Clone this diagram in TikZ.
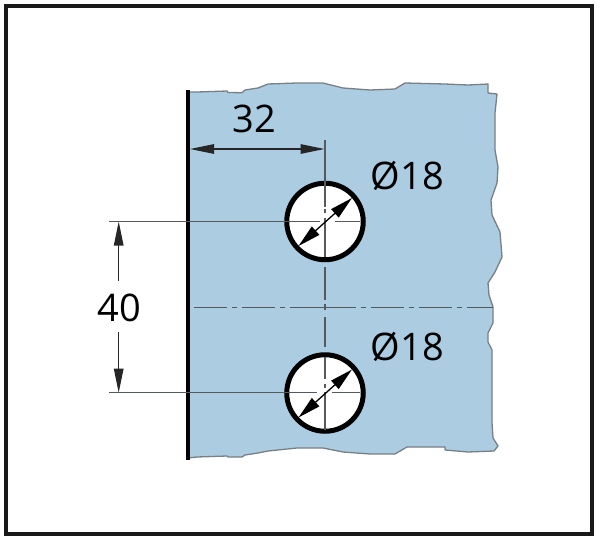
\documentclass[tikz,border=0pt]{standalone}
\usepackage{fontspec}
\setmainfont{Open Sans}
\usetikzlibrary{arrows.meta}
\definecolor{plate}{RGB}{171,204,225}
\definecolor{plateedge}{RGB}{120,128,134}
\definecolor{dimline}{RGB}{85,90,95}
\tikzset{
  frameline/.style={draw=black!90,line width=3.2pt},
  plateshape/.style={fill=plate,draw=plateedge,line width=1.3pt,line join=round},
  edgebar/.style={draw=black,line width=4pt},
  holering/.style={circle,draw=black,line width=5pt,fill=white,minimum size=76.5pt,inner sep=0pt,outer sep=0pt},
  dimarrow/.style={draw=black,line width=1.3pt,{Triangle[length=23pt,width=11pt]}-{Triangle[length=23pt,width=11pt]}},
  hdim/.style={draw=black!85,line width=1.2pt,-{Triangle[length=24pt,width=9.5pt]}},
  thinline/.style={draw=dimline,line width=1.3pt},
  axisline/.style={draw=dimline,line width=1pt,dash pattern=on 33pt off 5pt on 5pt off 5pt},
  label/.style={font=\fontsize{38}{40}\selectfont,text=black,inner sep=0pt}
}
\begin{document}
\begin{tikzpicture}[x=1pt,y=-1pt]
\useasboundingbox (0,0) rectangle (600,544);
\fill[white] (0,0) rectangle (600,544);
\draw[frameline] (6,6) rectangle (592,534);
\draw[plateshape] (188,92) -- (197,92) -- (227,91) -- (228,92.5) -- (242,92.7) -- (245,90) -- (258,88) -- (268,84) -- (297,83) -- (323,83) -- (343,88) -- (370,90) -- (395,89) -- (405,83) -- (445,84) -- (468,85) -- (488,84) -- (488,93) -- (497,94) -- (495,113) -- (495,150) -- (498,167) -- (497,183) -- (491,200) -- (492,215) -- (500,232) -- (502,257) -- (495,272) -- (488,283) -- (489,295) -- (493,307) -- (493,323) -- (488,333) -- (488,342) -- (492,350) -- (492,423) -- (493,438) -- (498,446) -- (494,451) -- (468,452) -- (445,450) -- (445,447) -- (407,447) -- (395,454) -- (370,454) -- (343,452) -- (323,448) -- (297,448) -- (268,451) -- (258,453) -- (245,455) -- (242,457) -- (228,457) -- (227,456) -- (197,457) -- (188,458) -- cycle;
\draw[edgebar] (187.5,90) -- (187.5,459.5);
\coordinate (barTop) at (190,149);
\coordinate (extTop) at (325,140);
\coordinate (c1) at (325,221.5);
\coordinate (c2) at (325,393);
\node[holering] (h1) at (c1) {};
\node[holering] (h2) at (c2) {};
% vertical centre line
\draw[thinline] (extTop) -- (325,207);
\draw[thinline] (325,209) -- (325,213) (325,218) -- (325,257);
\draw[thinline] (325,267) -- (325,300) (325,304) -- (325,310) (325,317) -- (325,347);
\draw[thinline] (325,357) -- (325,379) (325,384) -- (325,388) (325,392) -- (325,430);
% horizontal centre line
\draw[axisline] (323,307) -- (493,307);
\draw[axisline] (323,307) -- (190,307);
% extension lines
\coordinate (d1) at (109,221.5);
\coordinate (d2) at (109,392.7);
\draw[thinline] (d1) -- (320,221.5) (335,221.5) -- (360,221.5);
\draw[thinline] (d2) -- (317,392.7) (332,392.7) -- (360,392.7);
\draw[hdim] (258,149) -- (barTop);
\draw[hdim] (258,149) -- (324.5,149);
\draw[dimarrow] (298.5,246) -- (352,198);
\draw[dimarrow] (298.5,417.5) -- (352,369.5);
\coordinate (v1) at (118.7,221.5);
\coordinate (v2) at (118.7,392.7);
\draw[hdim] (118.7,281) -- (v1);
\draw[hdim] (118.7,332) -- (v2);
\node[label] (t32) at (254,119) {32};
\node[label] (t40) at (119,308) {40};
\node[label] (t18a) at (407.5,175.5) {Ø18};
\node[label] (t18b) at (407.5,347) {Ø18};
\end{tikzpicture}
\end{document}
